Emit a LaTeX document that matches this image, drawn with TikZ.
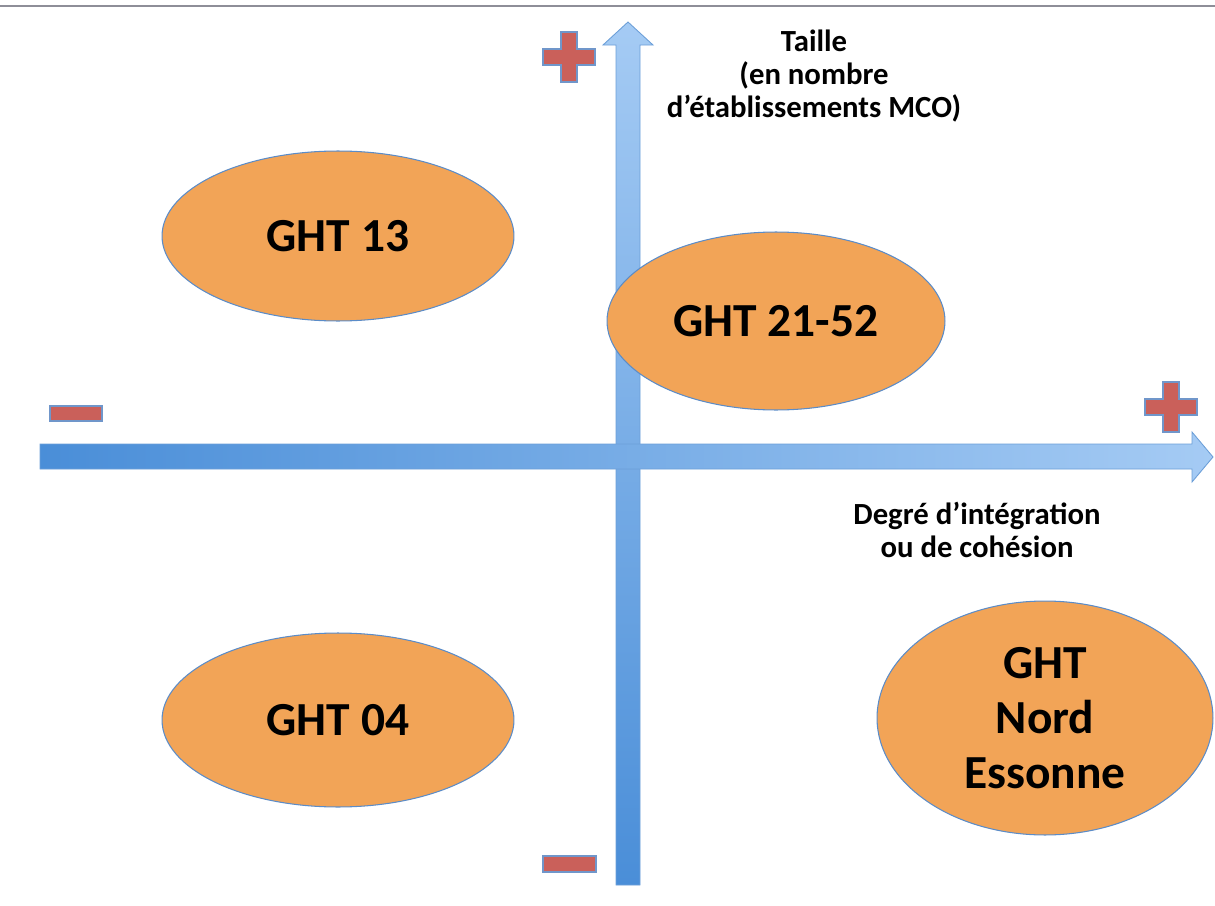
\documentclass[tikz,border=0pt]{standalone}
\usepackage{fontspec}
\setmainfont{Carlito}
\usetikzlibrary{shapes.geometric}

\definecolor{ghtorange}{HTML}{F2A457}
\definecolor{ghtedge}{HTML}{5B8CC8}
\definecolor{axisdark}{HTML}{4A8ED8}
\definecolor{axislight}{HTML}{A5CBF4}
\definecolor{axisedge}{HTML}{6C9FD8}
\definecolor{signred}{HTML}{CA605A}
\definecolor{signedge}{HTML}{7096CA}
\definecolor{topline}{HTML}{8E8E98}

\tikzset{
  ght/.style={ellipse, draw=ghtedge, fill=ghtorange, line width=0.6pt, inner sep=0pt,
    font=\fontsize{27}{31.2}\selectfont\bfseries, align=center},
  axislabel/.style={font=\fontsize{17.5}{18.8}\selectfont\bfseries, align=center},
  sign/.style={fill=signred, draw=signedge, line width=0.6pt},
}

\newcommand{\plusmark}[2]{%
  \draw[sign] (#1-8,#2-25) -- (#1+8,#2-25) -- (#1+8,#2-8) -- (#1+26,#2-8) -- (#1+26,#2+8)
    -- (#1+8,#2+8) -- (#1+8,#2+25) -- (#1-8,#2+25) -- (#1-8,#2+8) -- (#1-26,#2+8)
    -- (#1-26,#2-8) -- (#1-8,#2-8) -- cycle;}

\begin{document}
\begin{tikzpicture}[x=0.02cm,y=-0.02cm]
      \useasboundingbox (0,0) rectangle (1215,906);
      \draw[topline, line width=1.6pt] (0,6) -- (1215,6);

      % axes
      \draw[axisedge, line width=0.5pt, shading=axis, bottom color=axisdark, top color=axislight]
        (616,885) -- (616,45) -- (603,45) -- (628,22) -- (653,45) -- (640,45) -- (640,885) -- cycle;
      \draw[axisedge, line width=0.5pt, shading=axis, left color=axisdark, right color=axislight]
        (40,444) -- (1192,444) -- (1192,432) -- (1213,457) -- (1192,482) -- (1192,469) -- (40,469) -- cycle;

      % groupements
      \node[ght, minimum width=7.04cm, minimum height=3.4cm] (ght13) at (338,236) {GHT 13};
      \node[ght, minimum width=6.76cm, minimum height=3.56cm] (ght2152) at (776,321) {GHT 21-52};
      \node[ght, minimum width=7.04cm, minimum height=3.48cm] (ght04) at (338,720) {GHT 04};
      \node[ght, minimum width=6.72cm, minimum height=4.68cm] (ghtnord) at (1045,718) {GHT\\Nord\\Essonne};

      % signes
      \plusmark{569}{57}
      \plusmark{1171}{407}
      \draw[sign] (50,406) rectangle (102,421);
      \draw[sign] (543,856) rectangle (596,872);

      \node[axislabel] (taille) at (814,76) {Taille\\(en nombre\\d’établissements MCO)};
      \node[axislabel] (degre) at (977,530) {Degré d’intégration\\ou de cohésion};
\end{tikzpicture}
\end{document}
